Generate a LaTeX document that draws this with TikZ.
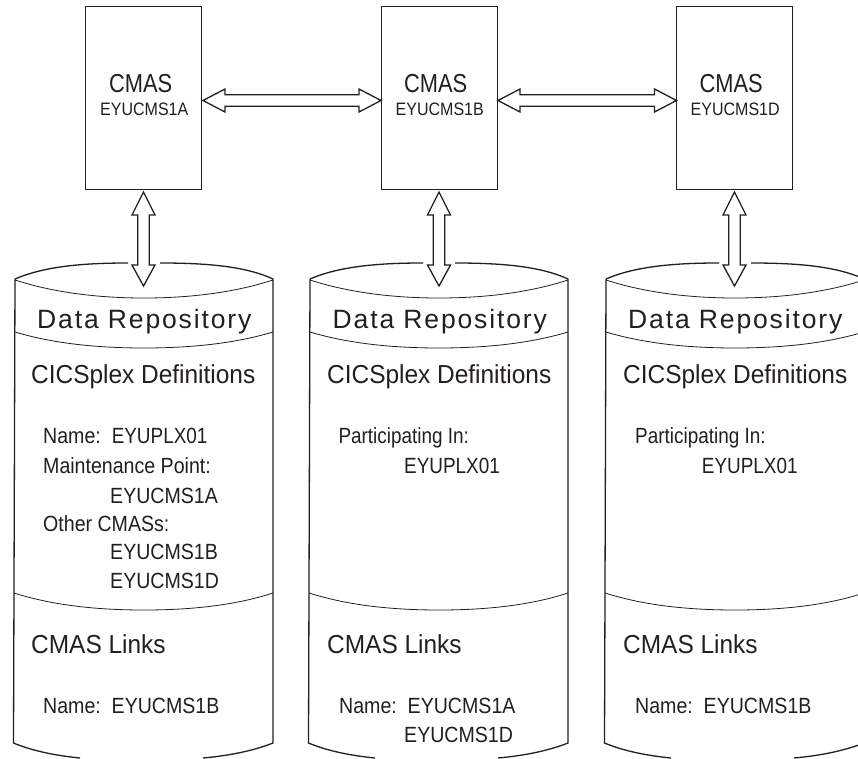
\documentclass[tikz,border=0pt]{standalone}
\usepackage{fontspec}
\setmainfont{Liberation Sans}
\newfontfamily\spaced{Liberation Sans}[LetterSpace=7]
\newfontfamily\headf{Liberation Sans}[FakeStretch=0.94]
\newfontfamily\boxf{Liberation Sans}[FakeStretch=0.84]
\newfontfamily\subf{Liberation Sans}[FakeStretch=0.89]
\newfontfamily\narrowf{Liberation Sans}[FakeStretch=0.86]
\definecolor{ink}{HTML}{231F20}
\tikzset{x=1pt,y=-1pt,
  box/.style={draw=ink,line width=0.9pt,fill=white,minimum width=116.5pt,minimum height=183pt,inner sep=0pt},
  txt/.style={anchor=base west,inner sep=0pt,text=ink},
  hd/.style={txt,font=\headf\fontsize{26}{26}\selectfont},
  boxhd/.style={txt,font=\boxf\fontsize{26}{26}\selectfont},
  sub/.style={txt,font=\subf\fontsize{18}{18}\selectfont},
  rep/.style={txt,font=\spaced\fontsize{26.5}{26.5}\selectfont},
  body/.style={txt,font=\subf\fontsize{22}{22}\selectfont},
  bodyn/.style={txt,font=\narrowf\fontsize{22}{22}\selectfont},
  ln/.style={draw=ink,line width=1.3pt,line join=miter},
  thin/.style={draw=ink,line width=0.8pt}}
\newcommand{\cyl}[1]{%
 \begin{scope}[shift={(#1,0)}]
  \draw[ln] (15,279) .. controls (45,266) and (85,263) ..(128,263);
  \draw[ln] (160,263) .. controls (205,263) and (245,266) .. (273,279) -- (273,743) .. controls (250,752) and (225,756) .. (203,758);
  \draw[ln] (80,758) .. controls (60,756) and (35,752) .. (13.5,743) -- (15,279);
  \draw[thin] (15,280) .. controls (55,293) and (100,298) .. (144,298) .. controls (188,298) and (233,293) .. (273,280);
  \draw[thin] (15,332) .. controls (55,344) and (100,348) .. (144,348) .. controls (188,348) and (233,344) .. (273,332);
  \draw[thin] (14,593) .. controls (55,606) and (100,610) .. (144,610) .. controls (188,610) and (233,606) .. (273,593);
 \end{scope}}
\newcommand{\harrow}[3]{% left x, right x, y
  \draw[ln,fill=white] (#1,#3) -- ++(22,-11.5) -- ++(0,5.7) -- (#2-22,#3-5.8) -- ++(0,-5.7) -- (#2,#3) -- ++(-22,11.5) -- ++(0,-5.7) -- (#1+22,#3+5.8) -- ++(0,5.7) -- cycle;}
\newcommand{\varrow}[3]{% x, top y, bottom y
  \draw[ln,fill=white] (#1,#2) -- ++(-11.5,23) -- ++(5.7,0) -- (#1-5.8,#3-21) -- ++(-5.7,0) -- (#1,#3) -- ++(11.5,-21) -- ++(-5.7,0) -- (#1+5.8,#2+23) -- ++(5.7,0) -- cycle;}
\begin{document}
\begin{tikzpicture}
\useasboundingbox (0,0) rectangle (858,759);
\fill[white] (0,0) rectangle (858,759);
\cyl{0}
\cyl{295}
\cyl{591}
\node[box] (a) at (143.5,97.5) {};
\node[box] (b) at (439.3,97.5) {};
\node[box] (d) at (734.5,97.5) {};
\harrow{203}{381}{100.5}
\harrow{498}{676.5}{100.5}
\varrow{143.5}{192}{286}
\varrow{439}{192}{286}
\varrow{734.5}{192}{286}
\node[boxhd] at (109,93) {CMAS};
\node[sub] at (100,116) {EYUCMS1A};
\node[boxhd] at (404,93) {CMAS};
\node[sub] at (395.5,116) {EYUCMS1B};
\node[boxhd] at (699.5,93) {CMAS};
\node[sub] at (690.5,116) {EYUCMS1D};
\foreach \n/\x in {r1/37,r2/332.5,r3/628} \node[rep] (\n) at (\x,328) {Data Repository};
\foreach \n/\x in {c1/31,c2/327,c3/623} \node[hd] (\n) at (\x,383) {CICSplex Definitions};
\foreach \n/\x in {l1/31,l2/327,l3/623} \node[hd] (\n) at (\x,653) {CMAS Links};
\node[body] at (43,443) {Name:\ \ {\narrowf EYUPLX01}};
\node[body] at (43,473) {Maintenance Point:};
\node[body] at (110,503) {EYUCMS1A};
\node[body] at (43,531) {Other CMASs:};
\node[body] at (110,559) {EYUCMS1B};
\node[body] at (110,588) {EYUCMS1D};
\node[body] at (43,713) {Name:\ \ EYUCMS1B};
\node[bodyn] at (338.3,443.5) {Participating In:};
\node[bodyn] at (404,473) {EYUPLX01};
\node[body] at (339,713) {Name:\ \ EYUCMS1A};
\node[body] at (404,742) {EYUCMS1D};
\node[bodyn] at (635,443.5) {Participating In:};
\node[bodyn] at (701.7,473) {EYUPLX01};
\node[body] at (635,713) {Name:\ \ EYUCMS1B};
\end{tikzpicture}
\end{document}
